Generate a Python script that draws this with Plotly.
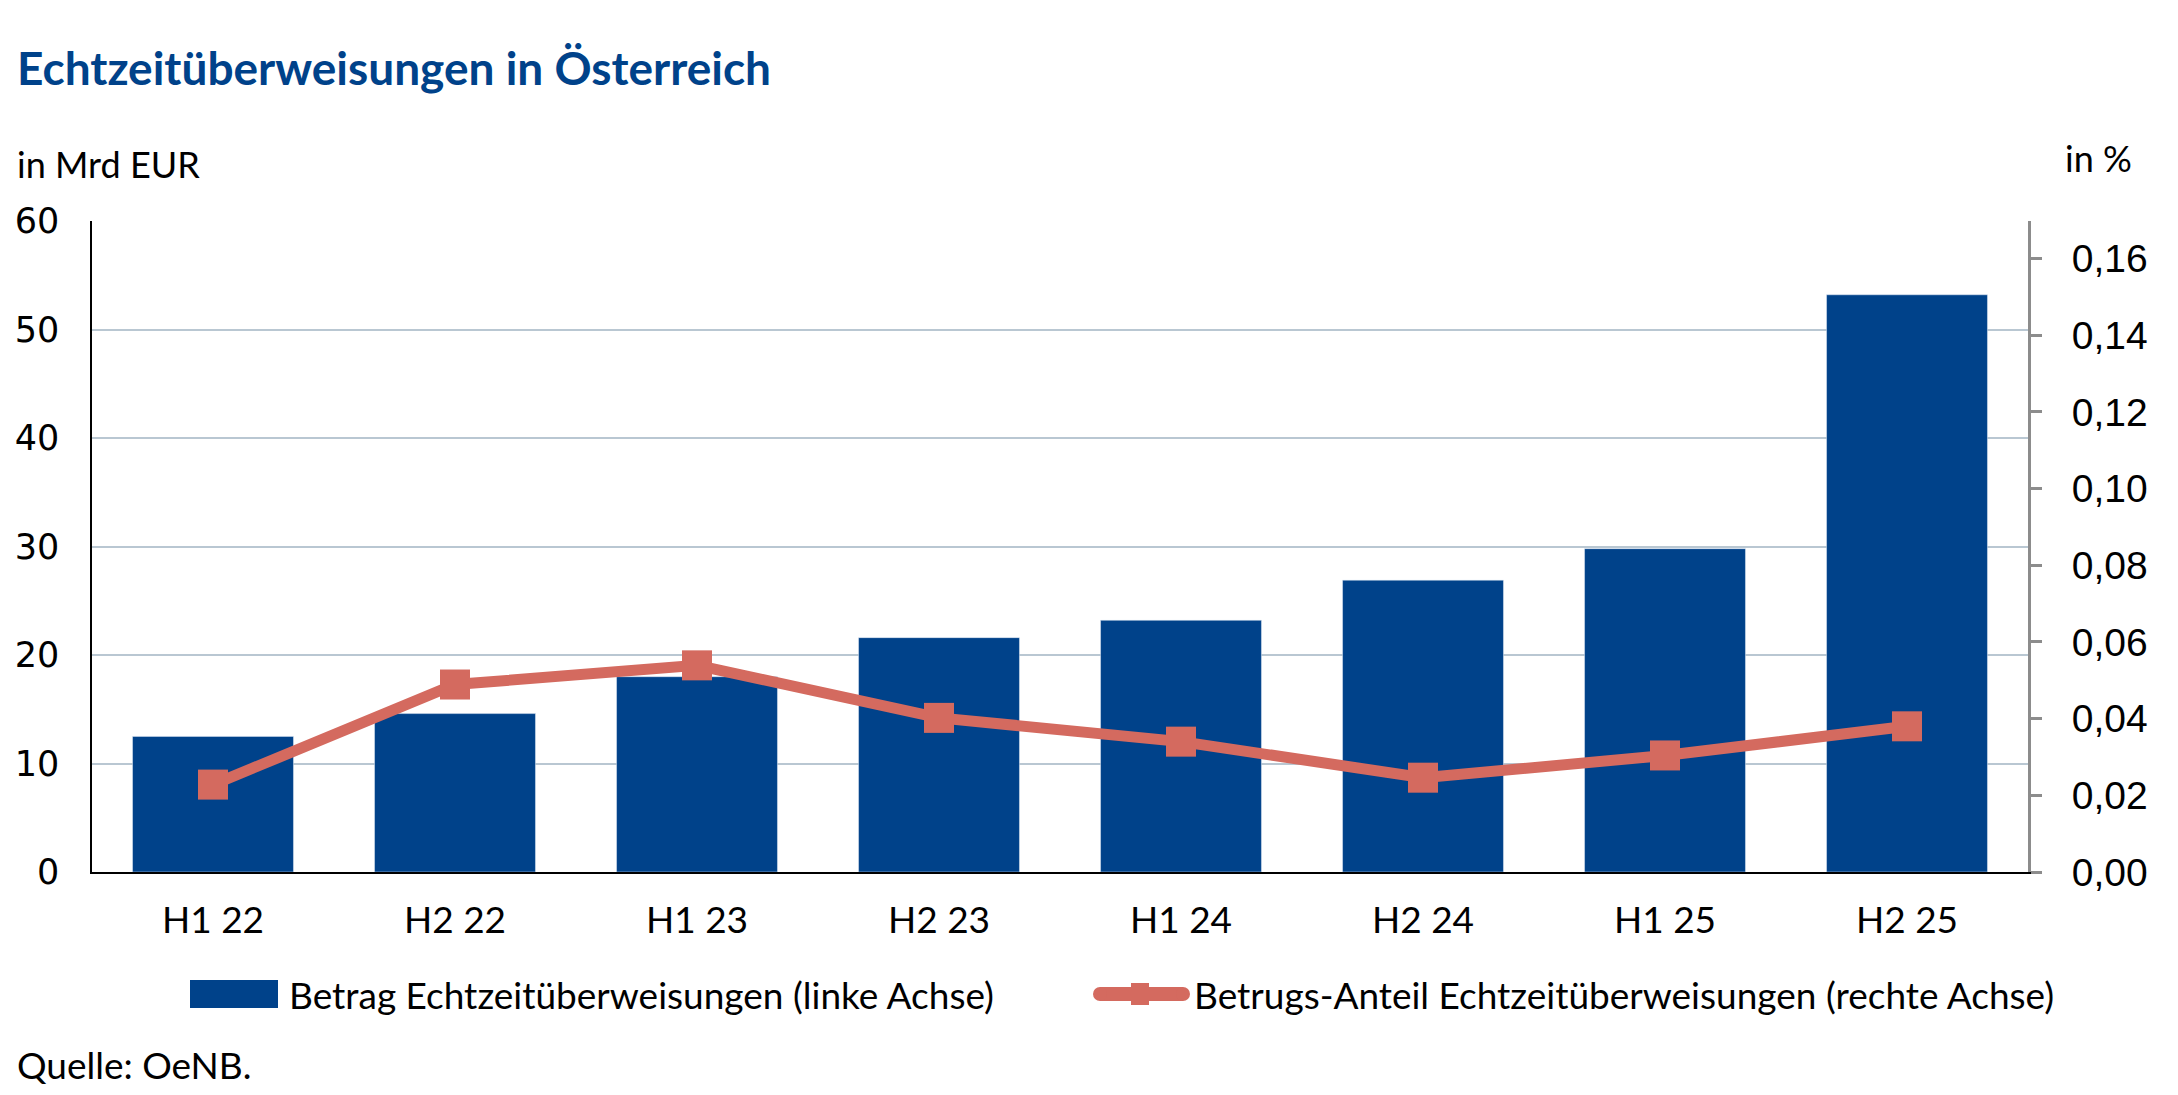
import plotly.graph_objects as go

categories = ["H1 22", "H2 22", "H1 23", "H2 23", "H1 24", "H2 24", "H1 25", "H2 25"]
betrag = [12.5, 14.6, 18.0, 21.6, 23.2, 26.9, 29.8, 53.2]
anteil = [0.0228, 0.0489, 0.0539, 0.0402, 0.0340, 0.0246, 0.0304, 0.0380]
left_ticks = [0, 10, 20, 30, 40, 50, 60]
right_ticks = [0.00, 0.02, 0.04, 0.06, 0.08, 0.10, 0.12, 0.14, 0.16]

W, H = 2178, 1095
L, R, T, B = 92, 2028, 221, 872
BLUE = "#00428a"
RED = "#d46a5f"
FONT = "Lato"


def px(x):
    return (x - L) / (R - L)


def py(y):
    return (B - y) / (B - T)


fig = go.Figure()
fig.add_trace(go.Bar(x=categories, y=betrag, marker_color=BLUE, width=0.665,
                     name="Betrag Echtzeitüberweisungen (linke Achse)", showlegend=False))
fig.add_trace(go.Scatter(x=categories, y=anteil, yaxis="y2", mode="lines+markers",
                         line=dict(color=RED, width=11),
                         marker=dict(symbol="square", size=30, color=RED),
                         name="Betrugs-Anteil Echtzeitüberweisungen (rechte Achse)", showlegend=False))

fig.update_layout(
    width=W, height=H,
    margin=dict(l=L, r=W - R, t=T, b=H - B, pad=0, autoexpand=False),
    paper_bgcolor="white", plot_bgcolor="white",
    separators=",.",
    showlegend=False,
    font=dict(family=FONT, color="black"),
    xaxis=dict(range=[-0.5, 7.5], showline=True, linecolor="black", linewidth=2, automargin=False,
               ticks="", showgrid=False, tickfont=dict(family=FONT, size=37, color="black"),
               ticklabelstandoff=15),
    yaxis=dict(range=[0, 60], tickvals=left_ticks, showline=True, linecolor="black", linewidth=1.5,
               ticks="", showgrid=False, zeroline=False, automargin=False,
               tickfont=dict(family="DejaVu Sans", size=35, color="black"),
               ticklabelstandoff=24,
               minor=dict(tickvals=[10, 20, 30, 40, 50], showgrid=True,
                          gridcolor="#b9c7d2", gridwidth=1.5, ticks="")),
    yaxis2=dict(range=[0, 0.1698], tickvals=right_ticks, tickformat=".2f", overlaying="y", side="right",
                showline=True, linecolor="#8c8c8c", linewidth=3, ticks="outside", ticklen=11,
                tickwidth=3, tickcolor="#8c8c8c", showgrid=False, zeroline=False, automargin=False,
                tickfont=dict(family="Liberation Sans", size=39, color="black"),
                ticklabelstandoff=22),
)

annotations = [
    dict(text="<b>Echtzeitüberweisungen in Österreich</b>", x=px(15), y=py(67), xanchor="left", yanchor="middle",
         font=dict(family=FONT, size=46, color=BLUE)),
    dict(text="in Mrd EUR", x=px(15), y=py(164), xanchor="left", yanchor="middle",
         font=dict(family=FONT, size=36, color="black")),
    dict(text="in %", x=px(2063), y=py(158), xanchor="left", yanchor="middle",
         font=dict(family=FONT, size=36, color="black")),
    dict(text="Betrag Echtzeitüberweisungen (linke Achse)", x=px(287), y=py(994), xanchor="left", yanchor="middle",
         font=dict(family=FONT, size=37, color="black")),
    dict(text="Betrugs-Anteil Echtzeitüberweisungen (rechte Achse)", x=px(1192), y=py(994), xanchor="left",
         yanchor="middle", font=dict(family=FONT, size=37, color="black")),
    dict(text="Quelle: OeNB.", x=px(15), y=py(1064), xanchor="left", yanchor="middle",
         font=dict(family=FONT, size=37, color="black")),
]
for a in annotations:
    a.update(xref="paper", yref="paper", showarrow=False)
fig.update_layout(annotations=annotations)

shapes = [
    dict(type="rect", x0=px(190), x1=px(278), y0=py(980), y1=py(1008), fillcolor=BLUE, line=dict(width=0)),
    dict(type="line", x0=px(1100), x1=px(1183), y0=py(994), y1=py(994), line=dict(color=RED, width=14)),
    dict(type="circle", x0=px(1093), x1=px(1107), y0=py(1001), y1=py(987), fillcolor=RED, line=dict(width=0)),
    dict(type="circle", x0=px(1176), x1=px(1190), y0=py(1001), y1=py(987), fillcolor=RED, line=dict(width=0)),
    dict(type="rect", x0=px(1131), x1=px(1149), y0=py(983), y1=py(1005), fillcolor=RED, line=dict(width=0)),
]
for s in shapes:
    s.update(xref="paper", yref="paper", layer="above")
fig.update_layout(shapes=shapes)

fig.write_html("out.html")
